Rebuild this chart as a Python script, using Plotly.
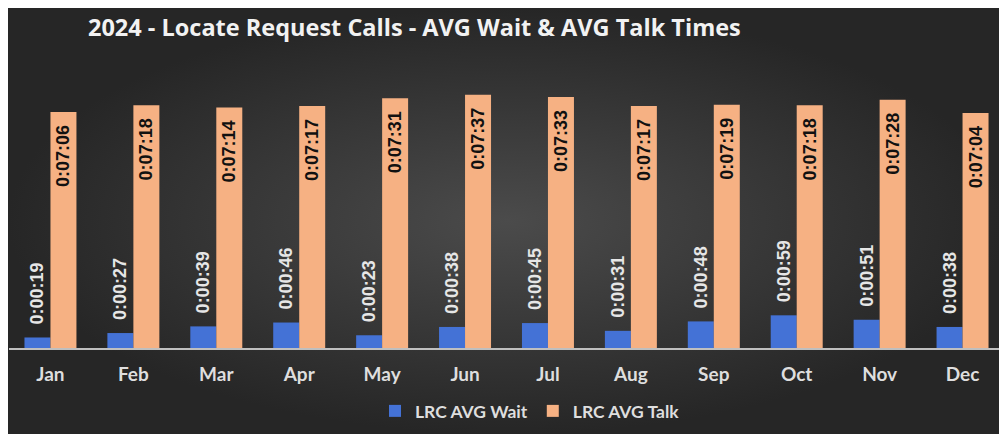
import plotly.graph_objects as go

months = ["Jan", "Feb", "Mar", "Apr", "May", "Jun", "Jul", "Aug", "Sep", "Oct", "Nov", "Dec"]
wait_sec = [19, 27, 39, 46, 23, 38, 45, 31, 48, 59, 51, 38]
talk_sec = [426, 438, 434, 437, 451, 457, 453, 437, 439, 438, 448, 424]
title_text = "2024 - Locate Request Calls - AVG Wait & AVG Talk Times"


def fmt(s):
    return "%d:%02d:%02d" % (s // 3600, (s % 3600) // 60, s % 60)


# the page body adds an 8px margin, so the figure is a little smaller than the window
W, H = 999, 426
fig = go.Figure()

# background panel with radial gradient on its own full-page axes
fig.add_trace(go.Scatter(
    x=[0, 1, 1, 0, 0], y=[0, 0, 1, 1, 0], mode="lines", fill="toself",
    line=dict(width=0), hoverinfo="skip", showlegend=False,
    fillgradient=dict(type="radial", colorscale=[[0, "#4b4b4b"], [1, "#262626"]]),
    xaxis="x", yaxis="y",
))

nb = "\u00a0"
fig.add_trace(go.Bar(
    x=months, y=wait_sec, name="LRC AVG Wait", marker=dict(color="#4472D6", line=dict(width=0)),
    text=[nb * 2 + fmt(v) for v in wait_sec], textposition="outside", textangle=-90,
    constraintext="none",
    outsidetextfont=dict(color="#e6e6e6", size=18, family="Liberation Sans", weight="bold"),
    cliponaxis=False, xaxis="x2", yaxis="y2",
))
fig.add_trace(go.Bar(
    x=months, y=talk_sec, name="LRC AVG Talk", marker=dict(color="#F6B183", line=dict(width=0)),
    text=[fmt(v) + nb * 2 for v in talk_sec], textposition="inside", insidetextanchor="end",
    textangle=-90, constraintext="none",
    insidetextfont=dict(color="#111111", size=18, family="Liberation Sans", weight="bold"),
    cliponaxis=False, xaxis="x2", yaxis="y2",
))

fig.update_layout(
    width=W, height=H,
    margin=dict(l=0, r=0, t=0, b=0),
    paper_bgcolor="white", plot_bgcolor="rgba(0,0,0,0)",
    barmode="group", bargap=0.373, bargroupgap=0,
    title=dict(text="<b>" + title_text + "</b>", x=80 / W, xanchor="left", xref="paper",
               y=1 - 20 / H, yanchor="middle", yref="paper",
               font=dict(family="Open Sans", size=23.5, color="#f2f2f2")),
    xaxis=dict(domain=[0, 1], range=[0, 1], visible=False, fixedrange=True),
    yaxis=dict(domain=[0, 1], range=[0, 1], visible=False, fixedrange=True),
    xaxis2=dict(domain=[1 / W, 996 / W], anchor="y2", showgrid=False, zeroline=False,
                showline=True, linecolor="#bfbfbf", linewidth=2, ticks="",
                ticklabelstandoff=8,
                tickfont=dict(family="Lato", size=19, color="#dedede", weight="bold")),
    yaxis2=dict(domain=[86 / H, 363 / H], anchor="x2", range=[0, 500], visible=False),
    legend=dict(orientation="h", x=522 / W, xanchor="center", y=1 - 403 / H, yanchor="middle",
                font=dict(family="Lato", size=17.5, color="#dedede", weight="bold"),
                bgcolor="rgba(0,0,0,0)", itemwidth=30),
    showlegend=True,
)

fig.write_html("out.html")
